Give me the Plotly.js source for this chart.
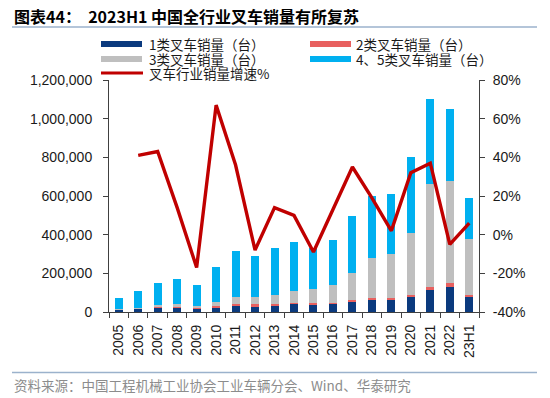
<!DOCTYPE html>
<html>
<head>
<meta charset="utf-8">
<script src="https://cdn.plot.ly/plotly-3.0.1.min.js"></script>
<style>
html,body{margin:0;padding:0;background:#fff;}
#chart{width:550px;height:398px;}
</style>
</head>
<body>
<div id="chart"></div>
<script>
// ---- data ----
var categories = ['2005','2006','2007','2008','2009','2010','2011','2012','2013','2014','2015','2016','2017','2018','2019','2020','2021','2022','23H1'];
var class1 = [8000,13000,20000,20000,15000,23000,30000,28000,33000,41000,38000,40000,53000,62000,62000,76000,112000,131000,76000];
var class2 = [2000,3000,5000,5000,4000,8000,12000,12000,10000,7000,7000,8000,11000,12000,10000,10000,17000,21000,10000];
var class3 = [3000,5000,10000,17000,14000,21000,38000,39000,45000,62000,74000,93000,139000,207000,228000,324000,531000,525000,293000];
var class45 = [62000,86000,115000,127000,106000,179000,234000,211000,241000,250000,210000,230000,295000,319000,309000,393000,441000,372000,209000];
var growth = [null,41,43,14,-17,67,36,-8,14,10,-9,13,35,19,2,32,37,-5,6];
var seriesNames = ['1类叉车销量（台）','2类叉车销量（台）','3类叉车销量（台）','4、5类叉车销量（台）','叉车行业销量增速%'];
var rightTickVals = [-40,-20,0,20,40,60,80];
var rightTickText = ['-40%','-20%','0%','20%','40%','60%','80%'];
var titleText = '<b>图表44：  2023H1 中国全行业叉车销量有所复苏</b>';
var sourceText = '资料来源：中国工程机械工业协会工业车辆分会、Wind、华泰研究';

// ---- styles ----
var colors = ['#0B3A7E','#E8605F','#BFBFBF','#00B0F0','#C00000'];
var W = 550, H = 398;
var L = 109, R = 479, T = 80, B = 312;
function px(x){ return (x - L) / (R - L); }
function py(y){ return (B - y) / (B - T); }

var barVals = [class1, class2, class3, class45];
var traces = barVals.map(function(v, i){
  return {type:'bar', x:categories, y:v, name:seriesNames[i], marker:{color:colors[i]},
          showlegend:false, hoverinfo:'skip'};
});
traces.push({type:'scatter', mode:'lines', x:categories, y:growth, yaxis:'y2', name:seriesNames[4],
  line:{color:colors[4], width:3.4}, showlegend:false, connectgaps:false, hoverinfo:'skip'});

var axisColor = '#404040';
var tickFont = {family:'"Liberation Sans", Arial, sans-serif', size:14, color:'#1a1a1a'};
var cjk = '"Noto Sans CJK SC", "Noto Sans", sans-serif';

// manual legend
var shapes = [];
var annotations = [];
var legendPos = [
  {sx:101, tx:148, y:44},
  {sx:310, tx:355, y:44},
  {sx:101, tx:148, y:59},
  {sx:310, tx:355, y:59},
  {sx:101, tx:148, y:73}
];
legendPos.forEach(function(p, i){
  if(i < 4){
    shapes.push({type:'rect', xref:'paper', yref:'paper', x0:px(p.sx), x1:px(p.sx+41),
      y0:py(p.y+3), y1:py(p.y-3), fillcolor:colors[i], line:{width:0}});
  } else {
    shapes.push({type:'line', xref:'paper', yref:'paper', x0:px(p.sx), x1:px(p.sx+42),
      y0:py(p.y), y1:py(p.y), line:{color:colors[i], width:3}});
  }
  annotations.push({xref:'paper', yref:'paper', x:px(p.tx), y:py(p.y), xanchor:'left', yanchor:'middle',
    text:seriesNames[i], showarrow:false, borderpad:0, font:{family:cjk, size:13.5, color:'#1a1a1a'}});
});
// rules under title and above source
shapes.push({type:'line', xref:'paper', yref:'paper', x0:px(12), x1:px(537), y0:py(27), y1:py(27),
  line:{color:'#9BB2CC', width:1.5}});
shapes.push({type:'line', xref:'paper', yref:'paper', x0:px(12), x1:px(537), y0:py(372.5), y1:py(372.5),
  line:{color:'#9BB2CC', width:1.5}});
annotations.push({xref:'paper', yref:'paper', x:px(13), y:py(385), xanchor:'left', yanchor:'middle',
  text:sourceText, showarrow:false, borderpad:0, font:{family:cjk, size:13.5, color:'#8C8C8C'}});

var layout = {
  width:W, height:H,
  margin:{l:L, r:W-R, t:T, b:H-B, pad:0},
  paper_bgcolor:'#fff', plot_bgcolor:'#fff',
  barmode:'stack', bargap:0.59,
  showlegend:false,
  title:{text:titleText, x:14/W, xanchor:'left', xref:'container', y:1-17/H, yref:'container', yanchor:'middle',
    font:{family:cjk, size:16, color:'#000'}},
  xaxis:{type:'category', showline:true, linecolor:axisColor, linewidth:1, ticks:'outside', ticklen:5,
    tickcolor:axisColor, tickson:'boundaries', tickangle:-90, tickfont:tickFont, showgrid:false, zeroline:false,
    ticklabelstandoff:6, fixedrange:true},
  yaxis:{range:[0,1200000], dtick:200000, tickformat:',d', showline:true, linecolor:axisColor, linewidth:1,
    ticks:'outside', ticklen:5, tickcolor:axisColor, tickfont:tickFont, showgrid:false, zeroline:false,
    ticklabelstandoff:8},
  yaxis2:{overlaying:'y', side:'right', range:[-40,80], tickvals:rightTickVals, ticktext:rightTickText,
    showline:true, linecolor:axisColor, linewidth:1, ticks:'outside', ticklen:5, tickcolor:axisColor,
    tickfont:tickFont, showgrid:false, zeroline:false, ticklabelstandoff:5},
  shapes:shapes,
  annotations:annotations
};

Plotly.newPlot('chart', traces, layout, {staticPlot:true, displayModeBar:false});
</script>
</body>
</html>
